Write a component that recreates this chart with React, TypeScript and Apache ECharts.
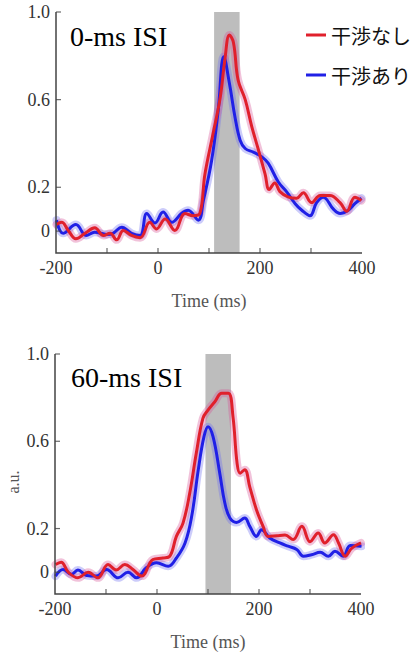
import React, { useEffect, useRef } from 'react';
import * as echarts from 'echarts';

// ---- Data (ms, a.u.) ----
const topRedT = [-199,-189,-176,-161,-143,-124,-107,-94,-81,-68,-52,-35,-16,-3,14,33,53,69,82,92,108,122,131,140,148,157,171,184,197,210,218,229,239,256,272,285,301,318,337,357,370,386,399];
const topRedV = [0.03,0.04,0.003,-0.035,-0.01,0.015,-0.02,-0.01,-0.04,0.003,-0.02,-0.03,0.04,0.01,0.055,0.003,0.08,0.07,0.08,0.26,0.445,0.61,0.78,0.895,0.86,0.69,0.6,0.476,0.37,0.26,0.19,0.22,0.18,0.155,0.15,0.175,0.13,0.163,0.163,0.13,0.09,0.155,0.14];
const topBlueT = [-199,-186,-161,-141,-124,-101,-88,-71,-52,-35,-22,-6,10,27,46,59,79,89,105,118,129,140,151,161,171,187,203,216,236,252,269,282,298,311,324,344,357,373,386,399];
const topBlueV = [0.05,-0.01,0.03,-0.02,-0.005,-0.015,-0.01,0.018,-0.01,-0.02,0.08,0.037,0.087,0.04,0.08,0.095,0.05,0.14,0.32,0.55,0.796,0.675,0.52,0.415,0.377,0.36,0.34,0.31,0.224,0.18,0.125,0.095,0.07,0.13,0.155,0.1,0.08,0.095,0.125,0.15];

const botRedT = [-199,-188,-174,-155,-135,-116,-96,-80,-63,-47,-30,-8,12,25,38,51,64,77,90,100,113,127,140,149,157,163,172,182,195,208,218,235,251,267,284,300,316,329,346,356,369,382,400];
const botRedV = [0.035,0.046,0,-0.026,0,-0.026,0.035,0.01,0.035,0.012,-0.018,0.058,0.065,0.073,0.164,0.225,0.36,0.545,0.705,0.743,0.78,0.82,0.82,0.712,0.5,0.454,0.47,0.39,0.286,0.21,0.164,0.167,0.17,0.15,0.21,0.14,0.18,0.134,0.172,0.134,0.073,0.11,0.134];
const botBlueT = [-199,-184,-168,-155,-138,-119,-99,-76,-57,-40,-21,-1,22,38,55,68,81,92,100,110,123,133,143,156,172,182,195,205,221,241,257,274,287,303,320,336,349,365,379,401];
const botBlueV = [-0.018,0.012,-0.01,0.01,-0.015,-0.018,0.012,-0.026,0,-0.026,0.02,0.043,0.027,0.065,0.134,0.256,0.47,0.62,0.667,0.62,0.454,0.317,0.248,0.228,0.248,0.21,0.164,0.195,0.157,0.134,0.119,0.104,0.073,0.08,0.091,0.073,0.096,0.073,0.122,0.119];

const stimTop = [110, 160];
const stimBot = [95, 145];

const seriesNames = ['干渉なし', '干渉あり'];
const panelTitles = ['0-ms ISI', '60-ms ISI'];
const yTicks = [0, 0.2, 0.6, 1.0];
const xLabels = [-200, 0, 200, 400];
const xTicks = [-100, 0, 100, 200, 300];
const X_MIN = -200, X_MAX = 400, Y_MIN = -0.1, Y_MAX = 1.0;

const RED = '#e0202c';
const BLUE = '#2020e6';
const RED_BAND = 'rgba(214,80,150,0.35)';
const BLUE_BAND = 'rgba(110,110,240,0.35)';
const SERIF = 'Liberation Serif';
const AXIS = '#444';

const pairs = (t: number[], v: number[]) => t.map((x, i) => [x, v[i]]);

export default function App() {
  const ref = useRef<HTMLDivElement>(null);
  useEffect(() => {
    if (!ref.current) return;
    const chart = echarts.init(ref.current, undefined, { renderer: 'svg' });

    const grids = [
      { left: 56, top: 12, width: 306, height: 241 },
      { left: 55, top: 354, width: 306, height: 240 },
    ];
    const mkX = (gi: number) => ({
      type: 'value', gridIndex: gi, min: X_MIN, max: X_MAX, interval: 100, position: 'bottom',
      name: 'Time (ms)', nameLocation: 'middle', nameGap: 39,
      nameTextStyle: { fontFamily: SERIF, fontSize: 18, color: '#555' },
      axisLine: { show: false, onZero: false },
      axisTick: { show: false },
      axisLabel: {
        fontFamily: SERIF, fontSize: 18, color: '#333', margin: 6,
        formatter: (v: number) => (xLabels.indexOf(v) >= 0 ? String(v) : ''),
      },
      splitLine: { show: false },
    });
    const mkY = (gi: number) => ({
      type: 'value', gridIndex: gi, min: Y_MIN, max: Y_MAX, position: 'left',
      axisLine: { show: false, onZero: false },
      axisTick: { show: false },
      axisLabel: {
        customValues: yTicks, fontFamily: SERIF, fontSize: 18, color: '#333', margin: 6,
        formatter: (v: number) => (v === 0 ? '0' : v.toFixed(1)),
      },
      splitLine: { show: false },
    });

    const band = (gi: number, data: number[][], color: string) => ({
      type: 'line', xAxisIndex: gi, yAxisIndex: gi, data, smooth: 0.4,
      showSymbol: false, silent: true, z: 2,
      lineStyle: { color, width: 8, cap: 'round' },
    });
    const stim = (gi: number, range: number[]) => ({
      type: 'line', xAxisIndex: gi, yAxisIndex: gi, data: [], silent: true, z: 1,
      markArea: {
        silent: true,
        itemStyle: { color: '#bdbdbd' },
        data: [[{ xAxis: range[0] }, { xAxis: range[1] }]],
      },
    });
    // left + bottom axis frame, drawn through the axis scales (corner values = axis bounds)
    const frame = (gi: number) => ({
      type: 'line', xAxisIndex: gi, yAxisIndex: gi, silent: true, z: 6, clip: false,
      data: [[X_MIN, Y_MAX], [X_MIN, Y_MIN], [X_MAX, Y_MIN]],
      showSymbol: false, symbol: 'none',
      lineStyle: { color: AXIS, width: 1.5, cap: 'butt', join: 'miter' },
    });
    const yTickMarks = (gi: number) => ({
      type: 'scatter', xAxisIndex: gi, yAxisIndex: gi, silent: true, z: 6, clip: false,
      data: yTicks.map((t) => [X_MIN, t]),
      symbol: 'rect', symbolSize: [5, 1.2], symbolOffset: [2.5, 0],
      itemStyle: { color: AXIS },
    });
    const xTickMarks = (gi: number) => ({
      type: 'scatter', xAxisIndex: gi, yAxisIndex: gi, silent: true, z: 6, clip: false,
      data: xTicks.map((t) => [t, Y_MIN]),
      symbol: 'rect', symbolSize: [1.2, 5], symbolOffset: [0, -2.5],
      itemStyle: { color: AXIS },
    });
    const line = (gi: number, name: string, data: number[][], color: string, z: number) => ({
      type: 'line', name, xAxisIndex: gi, yAxisIndex: gi, data, smooth: 0.4,
      showSymbol: false, z, color,
      lineStyle: { color, width: 3 },
    });

    chart.setOption({
      animation: false,
      grid: grids,
      xAxis: [mkX(0), mkX(1)],
      yAxis: [mkY(0), mkY(1)],
      legend: {
        data: seriesNames.map((n) => ({ name: n, icon: 'rect' })),
        orient: 'vertical', left: 301, top: 20, itemWidth: 20, itemHeight: 3, itemGap: 20,
        textStyle: { fontFamily: 'Noto Sans CJK JP', fontSize: 20, color: '#111' },
      },
      graphic: [
        { type: 'text', left: 70, top: 22, style: { text: panelTitles[0], fontFamily: SERIF, fontSize: 28, fill: '#000' } },
        { type: 'text', left: 71, top: 363, style: { text: panelTitles[1], fontFamily: SERIF, fontSize: 28, fill: '#000' } },
        { type: 'text', x: 13, y: 482, rotation: Math.PI / 2, style: { text: 'a.u.', fontFamily: SERIF, fontSize: 16, fill: '#555', align: 'center', verticalAlign: 'middle' } },
      ],
      series: [
        stim(0, stimTop),
        band(0, pairs(topBlueT, topBlueV), BLUE_BAND),
        band(0, pairs(topRedT, topRedV), RED_BAND),
        line(0, seriesNames[1], pairs(topBlueT, topBlueV), BLUE, 3),
        line(0, seriesNames[0], pairs(topRedT, topRedV), RED, 4),
        frame(0), yTickMarks(0), xTickMarks(0),
        stim(1, stimBot),
        band(1, pairs(botBlueT, botBlueV), BLUE_BAND),
        band(1, pairs(botRedT, botRedV), RED_BAND),
        line(1, seriesNames[1], pairs(botBlueT, botBlueV), BLUE, 3),
        line(1, seriesNames[0], pairs(botRedT, botRedV), RED, 4),
        frame(1), yTickMarks(1), xTickMarks(1),
      ],
    });
    return () => chart.dispose();
  }, []);
  return <div ref={ref} style={{ position: 'absolute', left: 0, top: 0, width: 416, height: 653, background: '#fff' }} />;
}
